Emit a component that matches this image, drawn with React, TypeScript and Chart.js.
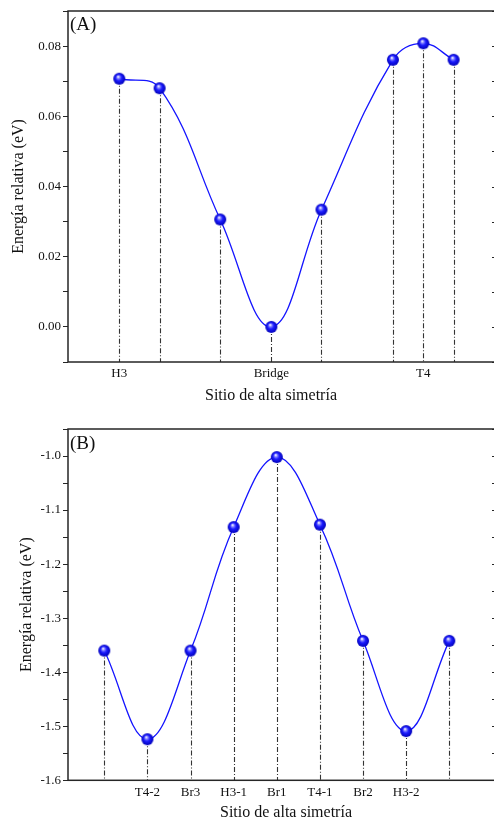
import { useEffect, useRef } from 'react';
import { Chart, registerables } from 'chart.js';

Chart.register(...registerables);

const FONT = "'Liberation Serif', 'Times New Roman', Times, serif";
const INK = '#262626';
const CURVE = '#1414ff';
const X_TITLE = 'Sitio de alta simetría';
const Y_TITLE = 'Energía relativa (eV)';

// Panel (A): relative energy along the H3 - Bridge - T4 path
const sitesA = ['H3', 'Bridge', 'T4'];
const siteTicksA = [0, 1, 2];
const pathA = [0, 0.265, 0.664, 1, 1.33, 1.8, 2, 2.199];
const energyA = [0.0707, 0.068, 0.0306, 0, 0.0334, 0.0761, 0.0808, 0.0761];
const xRangeA = [-0.3375, 2.478];
const yRangeA = [-0.01, 0.09];
const yStepA = 0.01;

// Panel (B): relative energy across the high-symmetry sites
const sitesB = ['T4-2', 'Br3', 'H3-1', 'Br1', 'T4-1', 'Br2', 'H3-2'];
const siteTicksB = [1, 2, 3, 4, 5, 6, 7];
const pathB = [0, 1, 2, 3, 4, 5, 6, 7, 8];
const energyB = [-1.36, -1.524, -1.36, -1.1315, -1.002, -1.127, -1.342, -1.509, -1.342];
const xRangeB = [-0.842, 9.083];
const yRangeB = [-1.6, -0.95];
const yStepB = 0.05;

const CANVAS_W = 497;
const CANVAS_H = 411;

function makeSphere(r: number): HTMLCanvasElement {
  const s = r * 2 + 2;
  const c = document.createElement('canvas');
  c.width = s;
  c.height = s;
  const ctx = c.getContext('2d')!;
  const cx = s / 2;
  const cy = s / 2;
  const g = ctx.createRadialGradient(cx - r * 0.2, cy - r * 0.35, r * 0.05, cx, cy, r);
  g.addColorStop(0, '#ffffff');
  g.addColorStop(0.22, '#8080ff');
  g.addColorStop(0.5, '#1c1cff');
  g.addColorStop(1, '#0000b8');
  ctx.fillStyle = g;
  ctx.beginPath();
  ctx.arc(cx, cy, r, 0, Math.PI * 2);
  ctx.fill();
  return c;
}

interface PanelSpec {
  tag: string;
  sites: string[];
  siteTicks: number[];
  path: number[];
  energy: number[];
  xRange: number[];
  yRange: number[];
  yStep: number;
  yDecimals: number;
  padTop: number;
  xAxisHeight: number;
  xTitleX: number;
  xTitleY: number;
  yTitlePad: number;
  tagY: number;
}

const dropLines = {
  id: 'dropLines',
  beforeDatasetsDraw(chart: any) {
    const { ctx, chartArea } = chart;
    const pts = chart.getDatasetMeta(0).data;
    ctx.save();
    ctx.strokeStyle = '#333';
    ctx.lineWidth = 1.1;
    ctx.setLineDash([5, 2, 1, 2]);
    for (const p of pts) {
      const x = Math.round(p.x) + 0.5;
      ctx.beginPath();
      ctx.moveTo(x, p.y);
      ctx.lineTo(x, chartArea.bottom);
      ctx.stroke();
    }
    ctx.restore();
  },
};

const frame = {
  id: 'frame',
  afterDraw(chart: any, _args: any, opts: any) {
    const { ctx, chartArea } = chart;
    const { left, top, right, bottom } = chartArea;
    ctx.save();
    ctx.strokeStyle = INK;
    ctx.lineWidth = 1.5;
    ctx.strokeRect(left, top, right - left, bottom - top);
    // mirrored ticks on the right edge
    ctx.lineWidth = 1;
    const ys = chart.scales.y;
    for (const t of ys.ticks) {
      const y = Math.round(ys.getPixelForValue(t.value)) + 0.5;
      ctx.beginPath();
      ctx.moveTo(right - 4, y);
      ctx.lineTo(right, y);
      ctx.stroke();
    }
    ctx.fillStyle = '#111';
    ctx.font = `19px ${FONT}`;
    ctx.textBaseline = 'middle';
    ctx.textAlign = 'left';
    ctx.fillText(opts.tag, left + 2, opts.tagY);
    // horizontal axis title
    ctx.font = `16px ${FONT}`;
    ctx.textAlign = 'center';
    ctx.fillText(X_TITLE, opts.xTitleX, opts.xTitleY);
    ctx.restore();
  },
};

function Panel({ spec, top }: { spec: PanelSpec; top: number }) {
  const ref = useRef<HTMLCanvasElement | null>(null);

  useEffect(() => {
    if (!ref.current) return;
    const sphere = makeSphere(6);
    const chart = new Chart(ref.current, {
      type: 'line',
      data: {
        datasets: [
          {
            data: spec.path.map((x, i) => ({ x, y: spec.energy[i] })),
            borderColor: CURVE,
            borderWidth: 1.3,
            tension: 0.4,
            pointStyle: sphere as any,
            pointRadius: 6,
            fill: false,
          },
        ],
      },
      options: {
        responsive: false,
        animation: false,
        events: [],
        layout: { autoPadding: false, padding: { top: spec.padTop, right: 1, bottom: 0, left: 0 } },
        plugins: {
          legend: { display: false },
          tooltip: { enabled: false },
          frame: { tag: spec.tag, tagY: spec.tagY, xTitleX: spec.xTitleX, xTitleY: spec.xTitleY },
        } as any,
        scales: {
          x: {
            type: 'linear',
            min: spec.xRange[0],
            max: spec.xRange[1],
            afterBuildTicks: (scale: any) => {
              scale.ticks = spec.siteTicks.map((v) => ({ value: v }));
            },
            afterFit: (scale: any) => {
              scale.height = spec.xAxisHeight;
              scale.paddingLeft = 0;
              scale.paddingRight = 0;
            },
            grid: { display: false, drawTicks: false },
            border: { display: false },
            ticks: {
              autoSkip: false,
              maxRotation: 0,
              padding: 4,
              color: '#111',
              font: { family: FONT, size: 13 },
              callback: (v: any) => {
                const i = spec.siteTicks.indexOf(Number(v));
                return i >= 0 ? spec.sites[i] : '';
              },
            },
            title: { display: false },
          },
          y: {
            min: spec.yRange[0],
            max: spec.yRange[1],
            afterFit: (scale: any) => {
              scale.width = 68;
              scale.paddingTop = 0;
              scale.paddingBottom = 0;
            },
            grid: {
              display: true,
              drawOnChartArea: false,
              drawTicks: true,
              tickLength: 5,
              color: INK,
              lineWidth: 1,
            },
            border: { display: false },
            ticks: {
              stepSize: spec.yStep,
              padding: 2,
              color: '#111',
              font: { family: FONT, size: 13 },
              callback: (v: any) => {
                const n = Math.round(Number(v) / spec.yStep);
                if (n % 2 !== 0) return '';
                const val = n * spec.yStep;
                return (Math.abs(val) < 1e-9 ? 0 : val).toFixed(spec.yDecimals);
              },
            },
            title: {
              display: true,
              text: Y_TITLE,
              color: '#111',
              font: { family: FONT, size: 16, lineHeight: 1 },
              padding: { top: spec.yTitlePad, bottom: 0 },
            },
          },
        },
      },
      plugins: [dropLines, frame],
    });
    return () => chart.destroy();
  }, [spec]);

  return (
    <canvas
      ref={ref}
      width={CANVAS_W}
      height={CANVAS_H}
      style={{ position: 'absolute', left: 0, top, width: CANVAS_W, height: CANVAS_H }}
    />
  );
}

const panelA: PanelSpec = {
  tag: '(A)',
  sites: sitesA,
  siteTicks: siteTicksA,
  path: pathA,
  energy: energyA,
  xRange: xRangeA,
  yRange: yRangeA,
  yStep: yStepA,
  yDecimals: 2,
  padTop: 11,
  xAxisHeight: 49,
  xTitleX: 271,
  xTitleY: 396,
  yTitlePad: 11,
  tagY: 25,
};

const panelB: PanelSpec = {
  tag: '(B)',
  sites: sitesB,
  siteTicks: siteTicksB,
  path: pathB,
  energy: energyB,
  xRange: xRangeB,
  yRange: yRangeB,
  yStep: yStepB,
  yDecimals: 1,
  padTop: 18,
  xAxisHeight: 41.7,
  xTitleX: 286,
  xTitleY: 402,
  yTitlePad: 19,
  tagY: 33,
};

export default function App() {
  return (
    <div
      style={{
        position: 'absolute',
        left: 0,
        top: 0,
        width: 494,
        height: 822,
        overflow: 'hidden',
        background: '#fff',
      }}
    >
      <Panel spec={panelA} top={0} />
      <Panel spec={panelB} top={411} />
    </div>
  );
}
